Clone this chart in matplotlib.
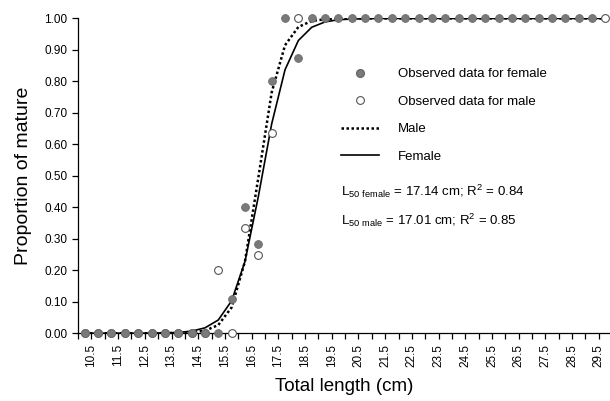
import numpy as np
from matplotlib import pyplot as plt
from matplotlib.lines import Line2D

plt.rcParams['font.family'] = ['Liberation Sans', 'DejaVu Sans']
plt.rcParams['mathtext.fontset'] = 'custom'
plt.rcParams['mathtext.rm'] = 'Liberation Sans'

# length classes (cm) where female points are drawn
length = np.arange(10.25, 29.5, 0.5)

# observed proportions
female_obs = [0, 0, 0, 0, 0, 0, 0, 0, 0, 0, 0,
              0.11, 0.40, 0.285, 0.80, 1.0, 0.875] + [1.0] * 22
male_x = [10.25, 10.75, 11.25, 11.75, 12.25, 12.75, 13.25, 13.75, 14.25, 14.75,
          15.25, 15.75, 16.25, 16.75, 17.25, 18.25, 29.75]
male_obs = [0, 0, 0, 0, 0, 0, 0, 0, 0, 0,
            0.20, 0.0, 0.333, 0.25, 0.636, 1.0, 1.0]

# fitted logistic curves
fit_x = np.arange(10.25, 30.0, 0.5)
female_fit = [0.0, 0.0, 0.0, 0.0, 0.0, 0.0005, 0.001, 0.0025, 0.0066, 0.017,
              0.042, 0.103, 0.228, 0.434, 0.665, 0.837, 0.930, 0.972, 0.989,
              0.996, 0.998, 0.999] + [1.0] * 18
male_fit = [0.0, 0.0, 0.0, 0.0, 0.0, 0.0, 0.0003, 0.0008, 0.0024, 0.008,
            0.026, 0.082, 0.228, 0.494, 0.765, 0.915, 0.973, 0.992, 0.9975,
            0.999] + [1.0] * 20

fig = plt.figure(figsize=(6.10, 4.01), dpi=100)
ax = fig.add_axes([0.128, 0.169, 0.872, 0.785])

ax.plot(fit_x, male_fit, color='black', linestyle=(0, (1, 1)), linewidth=1.8, label='Male', zorder=2)
ax.plot(fit_x, female_fit, color='black', linewidth=1.2, label='Female', zorder=2)

ax.plot(male_x, male_obs, 'o', markersize=5.6, markerfacecolor='white',
        markeredgecolor='#555555', markeredgewidth=0.8, clip_on=False, zorder=3)
ax.plot(length, female_obs, 'o', markersize=5.6, markerfacecolor='#7a7a7a',
        markeredgecolor='#6a6a6a', markeredgewidth=0.6, clip_on=False, zorder=4)

ax.set_xlim(10.0, 29.92)
ax.set_ylim(0, 1.0)
ax.set_yticks(np.arange(0, 1.01, 0.1))
ax.set_yticklabels(['%.2f' % v for v in np.arange(0, 1.01, 0.1)], fontsize=8.5)
major = np.arange(10.5, 29.6, 1.0)
ax.set_xticks(major)
ax.set_xticklabels(['%.1f' % v for v in major], rotation=90, fontsize=8.5)
ax.set_xticks(np.arange(10.0, 29.9, 1.0), minor=True)
ax.tick_params(axis='both', which='both', direction='out', length=4, width=0.9)
ax.spines['top'].set_visible(False)
ax.spines['right'].set_visible(False)
ax.spines['left'].set_linewidth(0.9)
ax.spines['bottom'].set_linewidth(0.9)

ax.set_xlabel('Total length (cm)', fontsize=13.5, labelpad=8)
ax.set_ylabel('Proportion of mature', fontsize=14, labelpad=9)

handles = [
    Line2D([], [], marker='o', linestyle='none', markersize=5.6, markerfacecolor='#7a7a7a',
           markeredgecolor='#6a6a6a'),
    Line2D([], [], marker='o', linestyle='none', markersize=5.6, markerfacecolor='white',
           markeredgecolor='#555555', markeredgewidth=0.8),
    Line2D([], [], color='black', linestyle=(0, (1, 1)), linewidth=1.8),
    Line2D([], [], color='black', linewidth=1.2),
]
labels = ['Observed data for female', 'Observed data for male', 'Male', 'Female']
ax.legend(handles, labels, loc='upper left', bbox_to_anchor=(0.494, 0.842), frameon=False,
          fontsize=9.5, handlelength=2.9, handletextpad=1.4, labelspacing=1.15,
          borderpad=0, borderaxespad=0)

ax.text(0.494, 0.45, r'L$_{\mathregular{50\ female}}$ = 17.14 cm; R$^{\mathregular{2}}$ = 0.84',
        transform=ax.transAxes, fontsize=9.5, va='center')
ax.text(0.494, 0.36, r'L$_{\mathregular{50\ male}}$ = 17.01 cm; R$^{\mathregular{2}}$ = 0.85',
        transform=ax.transAxes, fontsize=9.5, va='center')

plt.savefig('out.png', dpi=100)
